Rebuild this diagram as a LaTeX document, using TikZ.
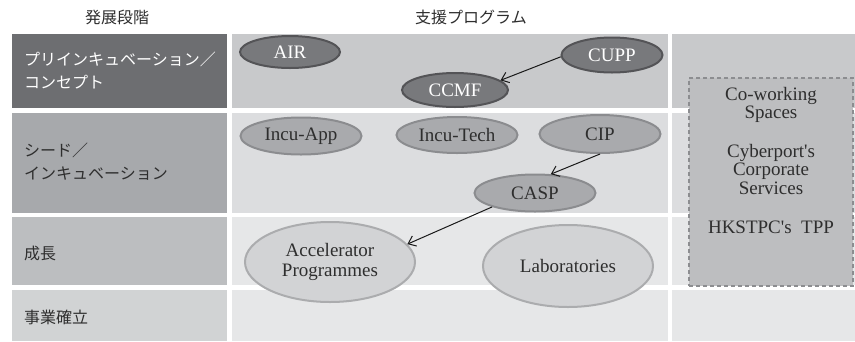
\documentclass[tikz,border=0pt]{standalone}
\usepackage{fontspec}
\setmainfont{Liberation Serif}
\newfontfamily\jp{Noto Sans CJK JP}
\usetikzlibrary{shapes.geometric,arrows.meta}
\definecolor{lrowA}{HTML}{6D6E71}
\definecolor{lrowB}{HTML}{A7A9AC}
\definecolor{lrowC}{HTML}{BCBEC0}
\definecolor{lrowD}{HTML}{D1D3D4}
\definecolor{mrowA}{HTML}{C8C9CB}
\definecolor{mrowB}{HTML}{DCDDDF}
\definecolor{mrowC}{HTML}{E6E7E8}
\definecolor{txtdark}{HTML}{2E2E2E}
\definecolor{ovdarkF}{HTML}{78797C}
\definecolor{ovdarkD}{HTML}{545457}
\definecolor{ovmidF}{HTML}{A9AAAD}
\definecolor{ovmidD}{HTML}{8B8C8F}
\definecolor{ovlightF}{HTML}{D2D3D5}
\definecolor{ovlightD}{HTML}{ABACAE}
\definecolor{boxF}{HTML}{BDBEC0}
\definecolor{boxD}{HTML}{8C8D90}
\tikzset{
  hdr/.style={font=\jp\fontsize{16}{18}\selectfont, text=txtdark},
  stage/.style={font=\jp\fontsize{16}{23}\selectfont, anchor=west, align=left, inner sep=0pt},
  oval/.style={ellipse, inner sep=0pt, line width=2pt, font=\fontsize{19}{20}\selectfont, align=center},
  ovdark/.style={oval, fill=ovdarkF, draw=ovdarkD, text=white},
  ovmid/.style={oval, fill=ovmidF, draw=ovmidD, text=txtdark},
  ovlight/.style={oval, fill=ovlightF, draw=ovlightD, text=txtdark},
  boxtext/.style={font=\fontsize{19}{18.5}\selectfont, text=txtdark, align=center, inner sep=1pt},
  link/.style={line width=1pt, -{Straight Barb[length=7pt,width=11pt]}, draw=black!90},
}
\begin{document}
\begin{tikzpicture}[x=1pt,y=-1pt]
\useasboundingbox (0,0) rectangle (855,341);
\fill[white] (0,0) rectangle (855,341);
% headers
\node[hdr] (h1) at (117,17) {発展段階};
\node[hdr] (h2) at (471,17) {支援プログラム};
% left column
\fill[lrowA] (12,34) rectangle (227,108);
\fill[lrowB] (12,113) rectangle (227,213);
\fill[lrowC] (12,217) rectangle (227,285);
\fill[lrowD] (12,290) rectangle (227,341);
% middle column
\fill[mrowA] (232,34) rectangle (668,108);
\fill[mrowB] (232,113) rectangle (668,213);
\fill[mrowC] (232,217) rectangle (668,285);
\fill[mrowC] (232,290) rectangle (668,341);
% right column
\fill[mrowA] (672,34) rectangle (855,108);
\fill[mrowB] (672,113) rectangle (855,213);
\fill[mrowC] (672,217) rectangle (855,285);
\fill[mrowC] (672,290) rectangle (855,341);
% stage labels
\node[stage, text=white] (s1) at (24,71) {プリインキュベーション／\\コンセプト};
\node[stage, text=txtdark] (s2) at (24,162) {シード／\\インキュベーション};
\node[stage, text=txtdark] (s3) at (24,253) {成長};
\node[stage, text=txtdark] (s4) at (24,317) {事業確立};
% dashed box
\node[draw=boxD, fill=boxF, line width=1.3pt, dash pattern=on 4pt off 3pt,
      minimum width=164pt, minimum height=208pt, inner sep=0pt] (box) at (771,182) {};
\node[boxtext] (cw) at (771,105) {Co-working\\Spaces};
\node[boxtext] (cp) at (771,169) {Cyberport\textquotesingle s\\Corporate\\Services};
\node[boxtext] (hk) at (771,227) {HKSTPC\textquotesingle s\ \ TPP};
% ovals
\node[ovdark, minimum width=100pt, minimum height=32pt] (air) at (290,52) {AIR};
\node[ovdark, minimum width=101pt, minimum height=35pt] (cupp) at (612,55) {CUPP};
\node[ovdark, minimum width=106pt, minimum height=34pt] (ccmf) at (455,90) {CCMF};
\node[ovmid, minimum width=121pt, minimum height=37pt] (iapp) at (301,136) {Incu-App};
\node[ovmid, minimum width=121pt, minimum height=36pt] (itech) at (457,135) {Incu-Tech};
\node[ovmid, minimum width=121pt, minimum height=38pt] (cip) at (600,134) {CIP};
\node[ovmid, minimum width=121pt, minimum height=37pt] (casp) at (535,193) {CASP};
\node[ovlight, minimum width=170pt, minimum height=80pt] (acc) at (330,262) {Accelerator\\Programmes};
\node[ovlight, minimum width=170pt, minimum height=82pt] (lab) at (568,266) {Laboratories};
% connectors
\draw[link] (cupp.182) -- (ccmf.12);
\draw[link] (cip.south) -- (casp.50);
\draw[link] (casp.198) -- (acc.13);
\end{tikzpicture}
\end{document}
